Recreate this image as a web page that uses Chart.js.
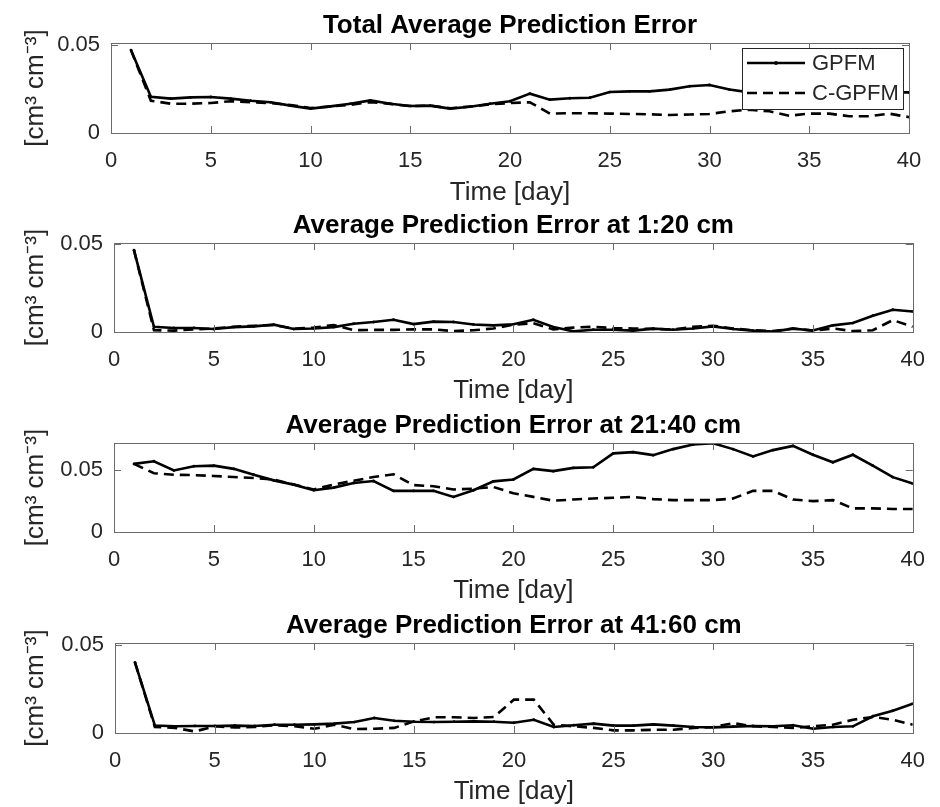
<!DOCTYPE html>
<html>
<head>
<meta charset="utf-8">
<script src="https://cdn.jsdelivr.net/npm/chart.js@4/dist/chart.umd.min.js"></script>
<style>
  html, body { margin: 0; padding: 0; background: #fff; }
  #wrap { position: relative; width: 940px; height: 807px; }
  #wrap canvas { position: absolute; left: 0; }
</style>
</head>
<body>
<div id="wrap">
  <canvas id="c1" width="940" height="210" style="top:0px"></canvas>
  <canvas id="c2" width="940" height="200" style="top:210px"></canvas>
  <canvas id="c3" width="940" height="200" style="top:410px"></canvas>
  <canvas id="c4" width="940" height="197" style="top:610px"></canvas>
</div>
<script>
// ========== DATA ==========
const days = [1,2,3,4,5,6,7,8,9,10,11,12,13,14,15,16,17,18,19,20,
              21,22,23,24,25,26,27,28,29,30,31,32,33,34,35,36,37,38,39,40];
const xTicks = [0, 5, 10, 15, 20, 25, 30, 35, 40];
const yTicks = [0, 0.05];
const seriesNames = ['GPFM', 'C-GPFM'];
const titles = [
  'Total Average Prediction Error',
  'Average Prediction Error at 1:20 cm',
  'Average Prediction Error at 21:40 cm',
  'Average Prediction Error at 41:60 cm'
];
const yMax = [0.051, 0.0508, 0.0712, 0.051];

// Total
const gpfmTotal = [0.047,0.0205,0.0195,0.0202,0.0204,0.0195,0.0183,0.0174,0.0155,0.0138,
                   0.0151,0.0166,0.0185,0.0166,0.0153,0.0155,0.0138,0.0149,0.0166,0.0180,
                   0.0223,0.0189,0.0197,0.0200,0.0232,0.0236,0.0236,0.0246,0.0265,0.0272,
                   0.0246,0.0230,0.0228,0.0228,0.0228,0.0230,0.0230,0.0230,0.0230,0.0230];
const cgpfmTotal = [0.047,0.0183,0.0166,0.0166,0.0170,0.0180,0.0174,0.0170,0.0158,0.0142,
                    0.0150,0.0160,0.0175,0.0165,0.0152,0.0155,0.0140,0.0150,0.0162,0.0170,
                    0.0174,0.0110,0.0112,0.0112,0.0110,0.0108,0.0106,0.0102,0.0105,0.0108,
                    0.0123,0.0132,0.0123,0.0098,0.0110,0.0110,0.0095,0.0095,0.0110,0.0090];

// 1:20 cm
const gpfm1 = [0.0467,0.0030,0.0023,0.0023,0.0017,0.0028,0.0032,0.0042,0.0017,0.0020,
               0.0028,0.0047,0.0057,0.0070,0.0045,0.0059,0.0057,0.0043,0.0038,0.0044,
               0.0070,0.0028,0.0004,0.0013,0.0013,0.0008,0.0019,0.0013,0.0020,0.0032,
               0.0017,0.0008,0.0002,0.0019,0.0009,0.0038,0.0051,0.0093,0.0127,0.0117];
const cgpfm1 = [0.0467,0.0010,0.0008,0.0015,0.0020,0.0030,0.0035,0.0040,0.0020,0.0025,
                0.0040,0.0010,0.0012,0.0012,0.0015,0.0015,0.0005,0.0010,0.0020,0.0042,
                0.0050,0.0015,0.0025,0.0030,0.0022,0.0020,0.0018,0.0014,0.0030,0.0036,
                0.0020,0.0010,0.0005,0.0020,0.0008,0.0020,0.0005,0.0010,0.0068,0.0030];

// 21:40 cm
const gpfm2 = [0.0545,0.0566,0.0492,0.0526,0.0531,0.0505,0.0458,0.0413,0.0379,0.0334,
               0.0355,0.0392,0.0408,0.0329,0.0329,0.0329,0.0281,0.0334,0.0405,0.0420,
               0.0505,0.0487,0.0513,0.0518,0.0629,0.0639,0.0615,0.0663,0.0700,0.0710,
               0.0663,0.0605,0.0655,0.0689,0.0618,0.0558,0.0618,0.0531,0.0439,0.0387];
const cgpfm2 = [0.0545,0.0470,0.0458,0.0455,0.0448,0.0440,0.0432,0.0420,0.0380,0.0340,
                0.0380,0.0410,0.0440,0.0462,0.0375,0.0366,0.0340,0.0347,0.0360,0.0310,
                0.0281,0.0250,0.0260,0.0268,0.0274,0.0281,0.0263,0.0255,0.0255,0.0255,
                0.0268,0.0329,0.0329,0.0260,0.0247,0.0255,0.0189,0.0189,0.0184,0.0184];

// 41:60 cm
const gpfm3 = [0.0400,0.0042,0.0038,0.0040,0.0040,0.0042,0.0040,0.0047,0.0047,0.0049,
               0.0053,0.0062,0.0085,0.0069,0.0064,0.0062,0.0064,0.0066,0.0064,0.0058,
               0.0075,0.0034,0.0044,0.0053,0.0042,0.0042,0.0049,0.0042,0.0034,0.0032,
               0.0036,0.0040,0.0038,0.0044,0.0024,0.0034,0.0038,0.0095,0.0126,0.0166];
const cgpfm3 = [0.0400,0.0034,0.0029,0.0009,0.0038,0.0031,0.0034,0.0044,0.0038,0.0024,
                0.0047,0.0022,0.0024,0.0029,0.0066,0.0089,0.0089,0.0085,0.0091,0.0189,
                0.0189,0.0047,0.0038,0.0029,0.0015,0.0015,0.0018,0.0018,0.0029,0.0034,
                0.0056,0.0038,0.0034,0.0029,0.0038,0.0047,0.0075,0.0091,0.0075,0.0047];

const allSeries = [
  [gpfmTotal, cgpfmTotal],
  [gpfm1, cgpfm1],
  [gpfm2, cgpfm2],
  [gpfm3, cgpfm3]
];

// ========== LAYOUT ==========
const boxes = [
  { id: 'c1', h: 210, L: 111, R: 909, T: 43, B: 133, titleTop: 10, xlabC: 193 },
  { id: 'c2', h: 200, L: 114, R: 914, T: 33, B: 122, titleTop: 0, xlabC: 181 },
  { id: 'c3', h: 200, L: 114, R: 918, T: 33, B: 122, titleTop: 0, xlabC: 181 },
  { id: 'c4', h: 197, L: 115, R: 922, T: 33, B: 123, titleTop: 0, xlabC: 182 }
];

const FONT = "'Liberation Sans', Arial, Helvetica, sans-serif";
const TXT = '#262626';

// MATLAB style box with inward ticks
const boxTicks = {
  id: 'boxTicks',
  afterDatasetsDraw(chart) {
    const { ctx, chartArea: a, scales: { x, y } } = chart;
    ctx.save();
    ctx.strokeStyle = '#6b6b6b';
    ctx.lineWidth = 1;
    ctx.strokeRect(Math.round(a.left) + 0.5, Math.round(a.top) + 0.5,
                   Math.round(a.right - a.left), Math.round(a.bottom - a.top));
    ctx.beginPath();
    xTicks.forEach(v => {
      const px = Math.round(x.getPixelForValue(v)) + 0.5;
      ctx.moveTo(px, a.bottom); ctx.lineTo(px, a.bottom - 7);
      ctx.moveTo(px, a.top); ctx.lineTo(px, a.top + 7);
    });
    yTicks.forEach(v => {
      const py = Math.round(y.getPixelForValue(v)) + 0.5;
      ctx.moveTo(a.left, py); ctx.lineTo(a.left + 7, py);
      ctx.moveTo(a.right, py); ctx.lineTo(a.right - 7, py);
    });
    ctx.stroke();
    ctx.restore();
  }
};

// legend box in the upper right corner (first plot only)
const boxLegend = {
  id: 'boxLegend',
  afterDraw(chart, args, opts) {
    if (!opts.show) return;
    const { ctx, chartArea: a } = chart;
    const w = 161, h = 61;
    const x0 = a.right - 6 - w, y0 = a.top + 5;
    ctx.save();
    ctx.fillStyle = '#fff';
    ctx.fillRect(x0, y0, w, h);
    ctx.strokeStyle = '#262626';
    ctx.lineWidth = 1;
    ctx.strokeRect(x0 + 0.5, y0 + 0.5, w, h);
    chart.data.datasets.forEach((ds, i) => {
      const ly = y0 + 15 + i * 30;
      ctx.beginPath();
      ctx.strokeStyle = ds.borderColor;
      ctx.lineWidth = ds.borderWidth;
      ctx.setLineDash(ds.borderDash || []);
      ctx.moveTo(x0 + 5, ly);
      ctx.lineTo(x0 + 63, ly);
      ctx.stroke();
      ctx.setLineDash([]);
      if (ds.pointRadius > 0) {
        ctx.beginPath();
        ctx.fillStyle = ds.borderColor;
        ctx.arc(x0 + 34, ly, ds.pointRadius + 0.5, 0, Math.PI * 2);
        ctx.fill();
      }
      ctx.fillStyle = TXT;
      ctx.font = '22px ' + FONT;
      ctx.textBaseline = 'middle';
      ctx.fillText(ds.label, x0 + 70, ly + 1);
    });
    ctx.restore();
  }
};

function makeChart(idx) {
  const b = boxes[idx];
  const [s1, s2] = allSeries[idx];
  new Chart(document.getElementById(b.id), {
    type: 'line',
    data: {
      datasets: [{
        label: seriesNames[0],
        data: s1.map((v, i) => ({ x: days[i], y: v })),
        borderColor: '#000',
        borderWidth: 2.6,
        pointRadius: 1.4,
        pointBackgroundColor: '#000',
        pointBorderWidth: 0,
        tension: 0
      }, {
        label: seriesNames[1],
        data: s2.map((v, i) => ({ x: days[i], y: v })),
        borderColor: '#000',
        borderWidth: 2.6,
        borderDash: [10, 6],
        pointRadius: 0,
        tension: 0
      }]
    },
    options: {
      responsive: false,
      animation: false,
      devicePixelRatio: 1,
      layout: { padding: { left: 0, right: 940 - b.R, top: 0, bottom: 0 } },
      plugins: {
        legend: { display: false },
        tooltip: { enabled: false },
        title: {
          display: true,
          fullSize: false,
          text: titles[idx],
          color: '#000',
          font: { family: FONT, size: 26, weight: 'bold', lineHeight: 1.2 },
          padding: { top: b.titleTop, bottom: b.T - 31.2 - b.titleTop }
        },
        boxLegend: { show: idx === 0 }
      },
      scales: {
        x: {
          type: 'linear',
          min: 0, max: 40,
          afterBuildTicks: s => { s.ticks = xTicks.map(v => ({ value: v })); },
          afterFit: s => { s.height = b.h - b.B; },
          grid: { display: false, drawTicks: false },
          border: { display: false },
          ticks: {
            color: TXT, font: { family: FONT, size: 22 },
            padding: 15, maxRotation: 0, autoSkip: false
          },
          title: {
            display: true, text: 'Time [day]', color: TXT,
            font: { family: FONT, size: 26 },
            padding: { top: 0, bottom: b.h - b.xlabC - 15.6 }
          }
        },
        y: {
          min: 0, max: yMax[idx],
          afterBuildTicks: s => { s.ticks = yTicks.map(v => ({ value: v })); },
          afterFit: s => { s.width = b.L; },
          grid: { display: false, drawTicks: false },
          border: { display: false },
          ticks: {
            color: TXT, font: { family: FONT, size: 22 },
            padding: 11,
            callback: v => (v === 0 ? '0' : String(v))
          },
          title: {
            display: true, text: '[cm³ cm⁻³]', color: TXT,
            font: { family: FONT, size: 26 },
            padding: { top: 20, bottom: 0 }
          }
        }
      }
    },
    plugins: [boxTicks, boxLegend]
  });
}

document.addEventListener('DOMContentLoaded', () => {
  [0, 1, 2, 3].forEach(makeChart);
});
</script>
</body>
</html>
